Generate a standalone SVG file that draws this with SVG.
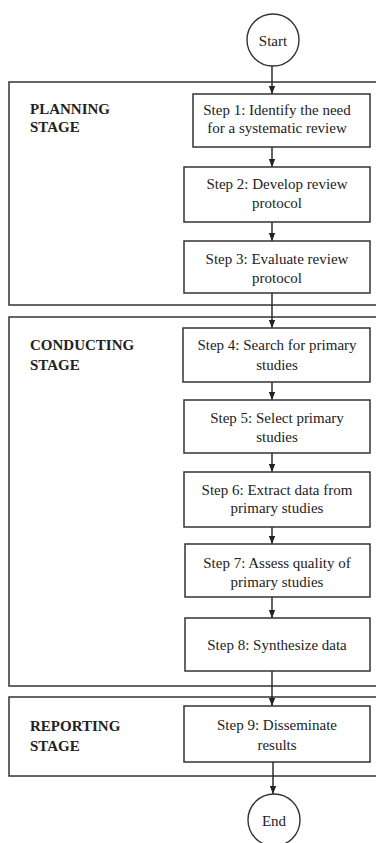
<svg xmlns="http://www.w3.org/2000/svg" width="376" height="843" viewBox="0 0 376 843">
<defs>
<marker id="ah" markerWidth="8" markerHeight="8" refX="8" refY="4" orient="auto" markerUnits="userSpaceOnUse">
<path d="M0,0.8 L8,4 L0,7.2 Z" fill="#222"/>
</marker>
<style>
.stage{fill:none;stroke:#333;stroke-width:1.5}
.box{fill:#fff;stroke:#333;stroke-width:1.5}
.circ{fill:#fff;stroke:#333;stroke-width:1.4}
.t{font-size:15px;fill:#222;text-anchor:middle}
.lbl{font-size:15px;font-weight:bold;fill:#222}
.con{stroke:#222;stroke-width:1.4;fill:none;marker-end:url(#ah)}
</style>
</defs>
<rect width="376" height="843" fill="#fff"/>
<g font-family="Liberation Serif, DejaVu Serif, serif">
<g id="planning-stage">
<rect class="stage" x="9" y="82" width="380" height="223"/>
<text class="lbl" x="30" y="114">PLANNING</text>
<text class="lbl" x="30" y="132">STAGE</text>
</g>
<g id="conducting-stage">
<rect class="stage" x="9" y="317" width="380" height="369"/>
<text class="lbl" x="30" y="350">CONDUCTING</text>
<text class="lbl" x="30" y="370">STAGE</text>
</g>
<g id="reporting-stage">
<rect class="stage" x="9" y="697" width="380" height="79"/>
<text class="lbl" x="30" y="731">REPORTING</text>
<text class="lbl" x="30" y="751">STAGE</text>
</g>
<g id="connectors">
<line class="con" x1="272" y1="66" x2="272" y2="94"/>
<line class="con" x1="272" y1="147" x2="272" y2="167"/>
<line class="con" x1="272" y1="222" x2="272" y2="241"/>
<line class="con" x1="272" y1="293" x2="272" y2="328"/>
<line class="con" x1="272" y1="382" x2="272" y2="400"/>
<line class="con" x1="272" y1="453" x2="272" y2="472"/>
<line class="con" x1="272" y1="527" x2="272" y2="544"/>
<line class="con" x1="272" y1="597" x2="272" y2="618"/>
<line class="con" x1="272" y1="671" x2="272" y2="706"/>
<line class="con" x1="273" y1="762" x2="273" y2="794"/>
</g>
<g id="start">
<circle class="circ" cx="273" cy="40" r="26"/>
<text class="t" x="273" y="46">Start</text>
</g>
<g id="step1">
<rect class="box" x="193" y="94" width="177" height="53"/>
<text class="t" x="277" y="115">Step 1: Identify the need</text>
<text class="t" x="277" y="133">for a systematic review</text>
</g>
<g id="step2">
<rect class="box" x="184" y="167" width="186" height="55"/>
<text class="t" x="277" y="189">Step 2: Develop review</text>
<text class="t" x="277" y="208">protocol</text>
</g>
<g id="step3">
<rect class="box" x="184" y="241" width="186" height="52"/>
<text class="t" x="277" y="264">Step 3: Evaluate review</text>
<text class="t" x="277" y="283">protocol</text>
</g>
<g id="step4">
<rect class="box" x="183" y="328" width="187" height="54"/>
<text class="t" x="277" y="350">Step 4: Search for primary</text>
<text class="t" x="277" y="370">studies</text>
</g>
<g id="step5">
<rect class="box" x="184" y="400" width="186" height="53"/>
<text class="t" x="277" y="423">Step 5: Select primary</text>
<text class="t" x="277" y="442">studies</text>
</g>
<g id="step6">
<rect class="box" x="184" y="472" width="186" height="55"/>
<text class="t" x="277" y="495">Step 6: Extract data from</text>
<text class="t" x="277" y="513">primary studies</text>
</g>
<g id="step7">
<rect class="box" x="185" y="544" width="185" height="53"/>
<text class="t" x="277" y="568">Step 7: Assess quality of</text>
<text class="t" x="277" y="587">primary studies</text>
</g>
<g id="step8">
<rect class="box" x="185" y="618" width="185" height="53"/>
<text class="t" x="277" y="650">Step 8: Synthesize data</text>
</g>
<g id="step9">
<rect class="box" x="184" y="706" width="186" height="56"/>
<text class="t" x="277" y="730">Step 9: Disseminate</text>
<text class="t" x="277" y="750">results</text>
</g>
<g id="end">
<circle class="circ" cx="274" cy="820" r="26"/>
<text class="t" x="274" y="826">End</text>
</g>
</g>
</svg>
